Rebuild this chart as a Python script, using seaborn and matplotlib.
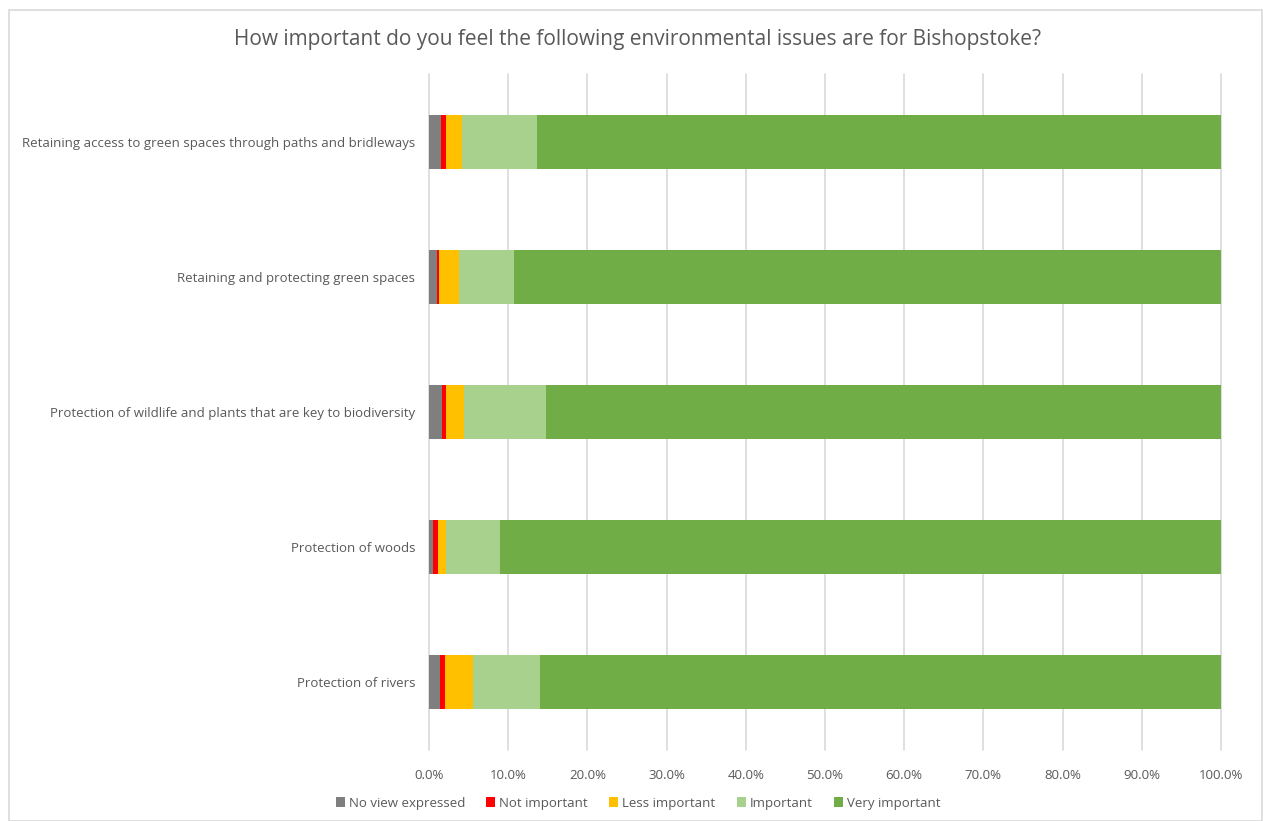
import matplotlib
matplotlib.use("Agg")
import matplotlib.pyplot as plt
from matplotlib.patches import Rectangle
import seaborn as sns
import pandas as pd
import numpy as np

categories = [
    "Retaining access to green spaces through paths and bridleways",
    "Retaining and protecting green spaces",
    "Protection of wildlife and plants that are key to biodiversity",
    "Protection of woods",
    "Protection of rivers",
]
series_names = ["No view expressed", "Not important", "Less important", "Important", "Very important"]
no_view = [1.5, 1.05, 1.7, 0.55, 1.4]
not_important = [0.7, 0.25, 0.45, 0.55, 0.65]
less_important = [2.0, 2.45, 2.25, 1.05, 3.55]
important = [9.45, 6.95, 10.35, 6.85, 8.4]
very_important = [86.35, 89.3, 85.25, 91.0, 86.0]
colors = ["#7F7F7F", "#FF0000", "#FFC000", "#A9D18E", "#70AD47"]
x_ticks = [0, 10, 20, 30, 40, 50, 60, 70, 80, 90, 100]

sns.set_theme(style="white")
plt.rcParams["font.family"] = ["Open Sans", "DejaVu Sans"]

values = np.array([no_view, not_important, less_important, important, very_important])
cumulative = np.cumsum(values, axis=0)
cumulative = cumulative / cumulative[-1] * 100

fig = plt.figure(figsize=(12.63, 8.21), dpi=100)
W, H = 1263, 821
ax = fig.add_axes([429 / W, 1 - 750 / H, (1221 - 429) / W, (750 - 74) / H])

# Stacked bars: draw cumulative totals from the largest down so each layer shows
for i in range(len(series_names) - 1, -1, -1):
    df = pd.DataFrame({"category": categories, "value": cumulative[i]})
    sns.barplot(data=df, x="value", y="category", color=colors[i], width=0.4,
                saturation=1, ax=ax, orient="h", zorder=3, label=series_names[i],
                edgecolor="none", linewidth=0)

handles, labels = ax.get_legend_handles_labels()
if ax.get_legend() is not None:
    ax.get_legend().remove()

ax.set_xlim(0, 100)
ax.set_ylim(4.5, -0.5)
ax.set_xticks(x_ticks)
ax.set_xticklabels([f"{t:.1f}%" for t in x_ticks], color="#595959", fontsize=9.5)
ax.tick_params(axis="y", labelsize=9.5, labelcolor="#595959", length=0, pad=10)
ax.tick_params(axis="x", length=0, pad=14)
ax.set_xlabel("")
ax.set_ylabel("")
ax.grid(axis="x", color="#D9D9D9", linewidth=1.2, zorder=0)
for line in ax.get_xgridlines():
    line.set_clip_on(False)
ax.set_axisbelow(True)
for s in ax.spines.values():
    s.set_visible(False)

order = [labels.index(n) for n in series_names]
fig.legend([handles[k] for k in order], series_names, loc="center",
           bbox_to_anchor=(638 / W, 1 - 803 / H), ncol=5, frameon=False,
           fontsize=9.5, handlelength=0.7, handleheight=0.7,
           handletextpad=0.3, columnspacing=1.6, labelcolor="#595959")

fig.text(638 / W, 1 - 40 / H,
         "How important do you feel the following environmental issues are for Bishopstoke?",
         ha="center", va="center", fontsize=15, color="#595959")

fig.patches.append(Rectangle((8.5 / W, 0), (1261.5 - 8.5) / W, 1 - 10 / H,
                             transform=fig.transFigure, fill=False,
                             edgecolor="#D9D9D9", linewidth=1.2))

fig.savefig("out.png", dpi=100)
